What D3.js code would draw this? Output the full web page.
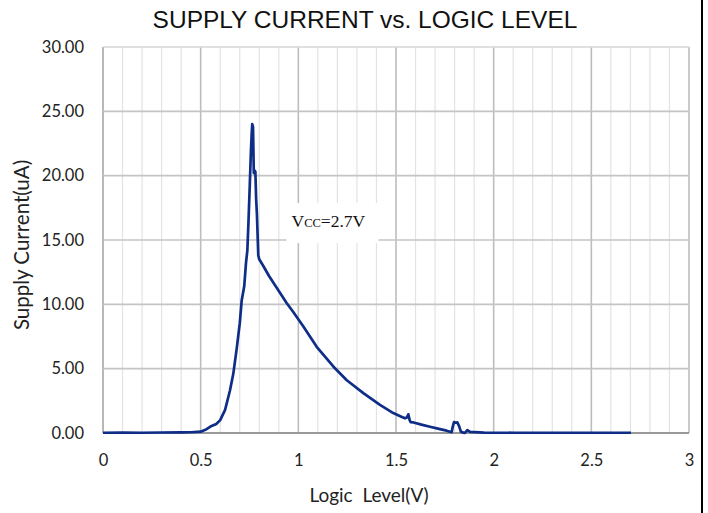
<!DOCTYPE html>
<html>
<head>
<meta charset="utf-8">
<script src="https://cdn.jsdelivr.net/npm/d3@7"></script>
<style>
  body { margin: 0; background: #fff; }
  svg { display: block; }
</style>
</head>
<body>
<svg id="chart"></svg>
<script>
// logic level (V) and supply current (uA)
const voltage = [0, 0.1, 0.2, 0.3, 0.4, 0.45, 0.5, 0.53, 0.55, 0.58, 0.6, 0.625, 0.65, 0.667, 0.684, 0.70, 0.71,
  0.723, 0.732, 0.739, 0.745, 0.752, 0.757, 0.761, 0.764, 0.768, 0.772, 0.776, 0.780, 0.784, 0.788, 0.795,
  0.80, 0.82, 0.85, 0.88, 0.906, 0.94, 0.974, 1.025, 1.094, 1.18, 1.248, 1.333, 1.418, 1.486, 1.530, 1.546,
  1.556, 1.563, 1.570, 1.575, 1.59, 1.63, 1.674, 1.72, 1.759, 1.785, 1.790, 1.797, 1.806, 1.814, 1.824,
  1.832, 1.845, 1.853, 1.865, 1.879, 1.95, 2.1, 2.3, 2.5, 2.703];
const current = [0.02, 0.03, 0.02, 0.04, 0.05, 0.06, 0.1, 0.3, 0.5, 0.7, 1.0, 1.8, 3.3, 4.6, 6.5, 8.5, 10.3,
  11.4, 13.2, 14.2, 16.5, 19.5, 21.8, 23.2, 24.0, 23.8, 20.2, 20.4, 20.3, 18.2, 17.0, 13.8,
  13.5, 13.0, 12.2, 11.5, 10.9, 10.1, 9.4, 8.3, 6.7, 5.15, 4.1, 3.1, 2.18, 1.55, 1.25, 1.14,
  1.2, 1.45, 1.0, 0.85, 0.82, 0.65, 0.49, 0.32, 0.18, 0.06, 0.45, 0.85, 0.8, 0.82, 0.5,
  0.1, 0.03, 0.0, 0.22, 0.08, 0.03, 0.02, 0.02, 0.02, 0.02];
const xTicks = [0, 0.5, 1, 1.5, 2, 2.5, 3];
const yTicks = [0, 5, 10, 15, 20, 25, 30];
const minorX = d3.range(0, 30.5, 1).map(d => d / 10);

const width = 708, height = 513;
const margin = { top: 47, left: 103, bottom: 80, right: 19 };
const iwidth = width - margin.left - margin.right;
const iheight = height - margin.top - margin.bottom;

const svg = d3.select('#chart').attr('width', width).attr('height', height);

const x = d3.scaleLinear().domain([0, 3]).range([0, iwidth]);
const y = d3.scaleLinear().domain([0, 30]).range([iheight, 0]);

const g = svg.append('g').attr('transform', `translate(${margin.left},${margin.top})`);

// minor vertical grid
g.append('g').selectAll('line').data(minorX.filter(d => Math.round(d * 10) % 5 !== 0)).enter()
  .append('line')
  .attr('x1', d => x(d)).attr('x2', d => x(d))
  .attr('y1', 0).attr('y2', iheight)
  .attr('stroke', '#e3e3e3').attr('stroke-width', 1.2);

// major vertical grid
g.append('g').selectAll('line').data(xTicks).enter()
  .append('line')
  .attr('x1', d => x(d)).attr('x2', d => x(d))
  .attr('y1', 0).attr('y2', iheight)
  .attr('stroke', d => d === 0 ? '#a6a6a6' : '#bdbdbd').attr('stroke-width', 1.6);

// horizontal grid
g.append('g').selectAll('line').data(yTicks.filter(d => d > 0)).enter()
  .append('line')
  .attr('x1', 0).attr('x2', iwidth)
  .attr('y1', d => y(d)).attr('y2', d => y(d))
  .attr('stroke', d => d === 30 ? '#d6d6d6' : '#c4c4c4').attr('stroke-width', 1.6);

// bottom axis line
g.append('line')
  .attr('x1', 0).attr('x2', iwidth)
  .attr('y1', iheight).attr('y2', iheight)
  .attr('stroke', '#9a9a9a').attr('stroke-width', 1.8);

// tick labels via d3 axes, no domain/ticks
const xAxis = g.append('g')
  .attr('transform', `translate(0,${iheight})`)
  .call(d3.axisBottom(x).tickValues(xTicks).tickSize(0).tickPadding(21).tickFormat(d3.format('')));
const yAxis = g.append('g')
  .call(d3.axisLeft(y).tickValues(yTicks).tickSize(0).tickPadding(19).tickFormat(d3.format('.2f')));
[xAxis, yAxis].forEach(a => {
  a.select('.domain').remove();
  a.selectAll('text')
    .attr('font-family', 'Lato, "Open Sans", sans-serif')
    .attr('font-size', 16.5)
    .attr('fill', '#222');
});

// annotation box
const ann = g.append('g').attr('transform', `translate(${x(0.965)},${y(16.0)})`);
ann.append('rect').attr('x', -5).attr('y', -24).attr('width', 92).attr('height', 40).attr('fill', '#fff');
const t = ann.append('text')
  .attr('font-family', '"Liberation Serif", "Times New Roman", serif')
  .attr('font-size', 17.5).attr('fill', '#111');
t.append('tspan').text('V');
t.append('tspan').attr('font-size', 12.5).text('CC');
t.append('tspan').text('=2.7V');

// curve
const line = d3.line()
  .x((d, i) => x(voltage[i]))
  .y(d => y(d));

g.append('path')
  .datum(current)
  .attr('fill', 'none')
  .attr('stroke', '#0e2d87')
  .attr('stroke-width', 2.7)
  .attr('stroke-linejoin', 'round')
  .attr('d', line);

// title
svg.append('text')
  .attr('x', 365).attr('y', 28)
  .attr('text-anchor', 'middle')
  .attr('font-family', '"Liberation Sans", Arial, sans-serif')
  .attr('font-size', 24.5)
  .attr('fill', '#111')
  .text('SUPPLY CURRENT vs. LOGIC LEVEL');

// axis titles
svg.append('text')
  .attr('x', 369).attr('y', 502)
  .attr('text-anchor', 'middle')
  .attr('font-family', 'Lato, "Open Sans", sans-serif')
  .attr('font-size', 19)
  .attr('fill', '#222')
  .attr('xml:space', 'preserve')
  .text('Logic  Level(V)');

svg.append('text')
  .attr('transform', 'translate(29,245) rotate(-90)')
  .attr('text-anchor', 'middle')
  .attr('font-family', 'Lato, "Open Sans", sans-serif')
  .attr('font-size', 20.5)
  .attr('fill', '#222')
  .text('Supply Current(uA)');

// page border on the right
svg.append('line')
  .attr('x1', 702).attr('x2', 702).attr('y1', 0).attr('y2', height)
  .attr('stroke', '#000').attr('stroke-width', 2);
</script>
</body>
</html>
